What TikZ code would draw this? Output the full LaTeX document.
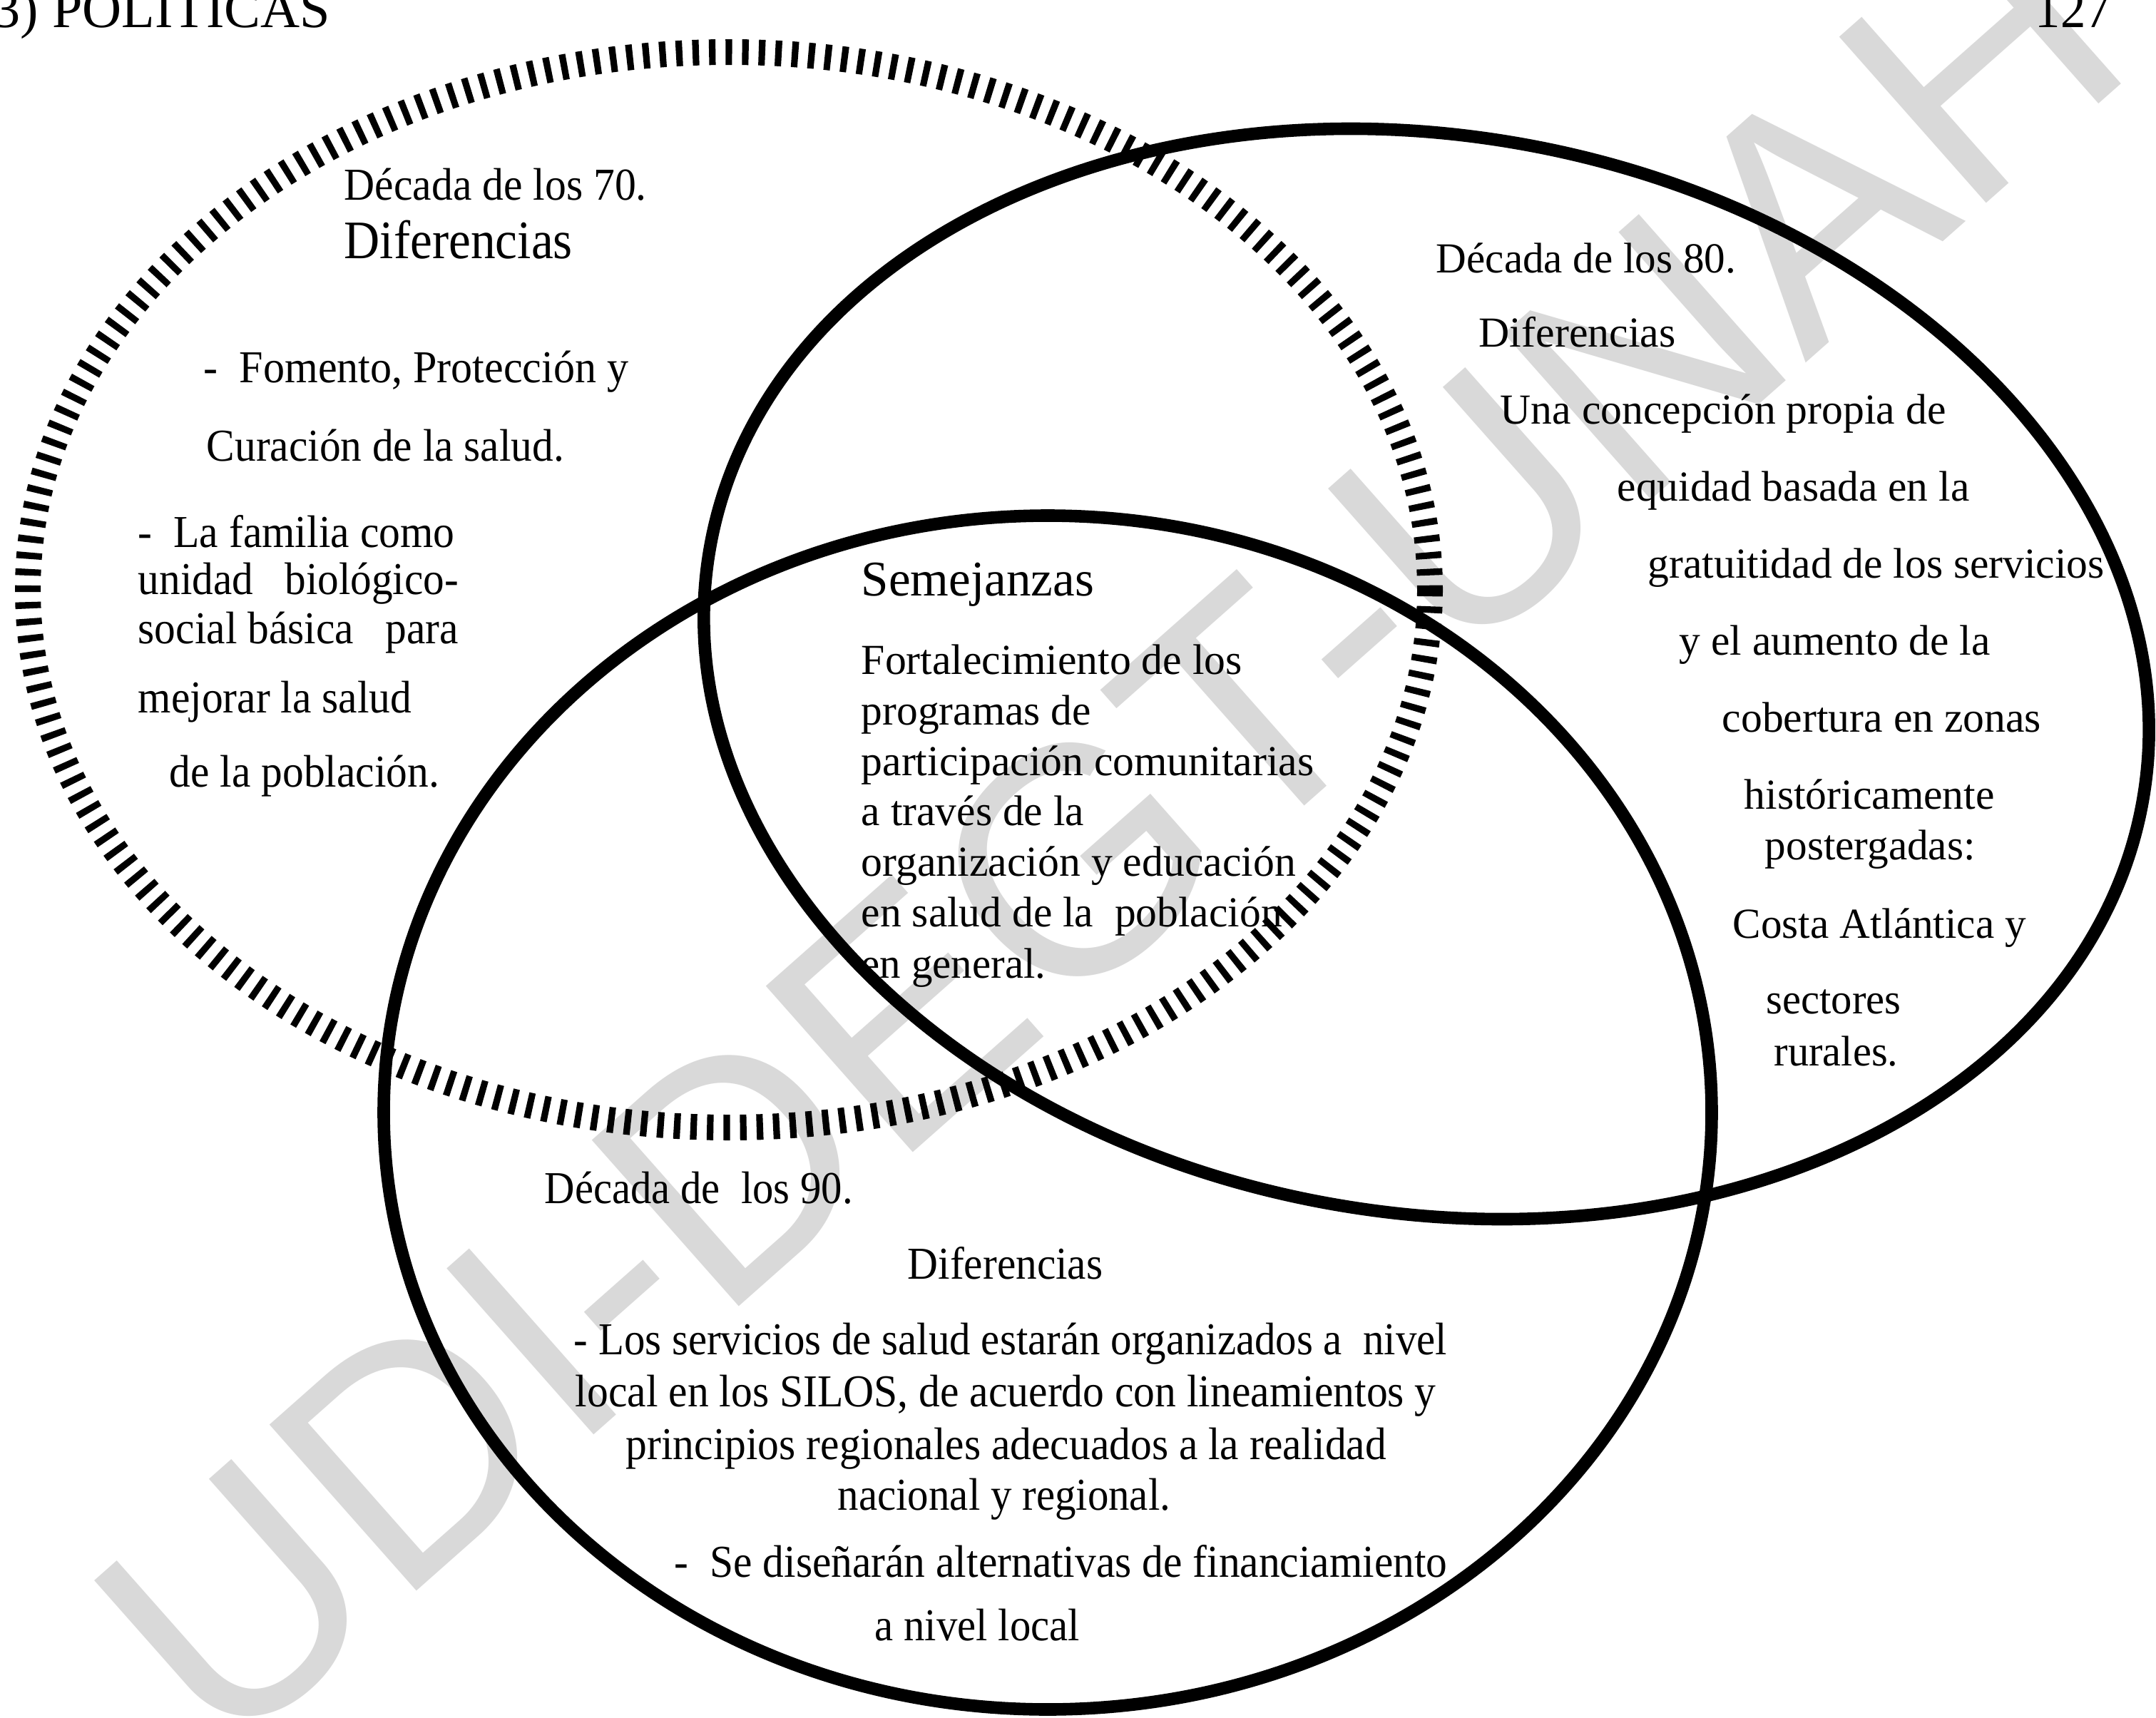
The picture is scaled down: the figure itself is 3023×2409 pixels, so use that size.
\documentclass[tikz,border=0pt]{standalone}
\usepackage{fontspec}
\usepackage{graphicx}
\setmainfont{Liberation Serif}
\newfontfamily\wmfont{Liberation Sans}
\definecolor{wmgray}{HTML}{D9D9D9}
\newcommand{\fw}[2]{\resizebox{#1pt}{\height}{#2}}
\begin{document}
\begin{tikzpicture}[x=0.25pt,y=-0.25pt,
  ring/.style={line width=4.4pt},
  rope/.style={line width=9pt, dash pattern=on 2.3pt off 3.5pt},
  txt/.style={anchor=base west, inner sep=0pt, font=\fontsize{15}{18}\selectfont},
  tall/.style={txt, font=\fontsize{16}{19}\selectfont},
  big/.style={txt, font=\fontsize{17.5}{21}\selectfont},
  bigtall/.style={txt, font=\fontsize{19}{22}\selectfont},
  head/.style={txt, font=\fontsize{19}{22}\selectfont}]
\useasboundingbox (0,0) rectangle (3023,2409);
\fill[white] (0,0) rectangle (3023,2409);
% watermark
\begin{scope}
\clip (0,0) rectangle (3023,2409);
\node[rotate=41.5, font=\wmfont\fontsize{113}{116}\selectfont, text=wmgray, inner sep=0pt] (wm) at (1554,1166) {UDI-DEGT-UNAH};
\end{scope}
% circles
\draw[rope] (1022,827) ellipse [x radius=983, y radius=754];
\draw[ring, shift={(2000,945)}, rotate=-10] (0,0) ellipse [x radius=1020, y radius=755];
\draw[ring] (1469,1560) ellipse [x radius=931, y radius=837];
% header
\node[head] (h1) at (-10,38) {\fw{118.1}{3) POLITICAS}};
\node[head] (h2) at (2853,38) {\fw{26.5}{127}};
% 70s
\node[tall] (a1) at (482,280) {\fw{106.0}{Década de los 70.}};
\node[bigtall] (a2) at (482,362) {\fw{80.0}{Diferencias}};
\node[tall] (a3) at (285,536) {\fw{148.9}{-\ \ Fomento, Protección y}};
\node[tall] (a4) at (289,646) {\fw{125.3}{Curación de la salud.}};
\node[tall] (a5) at (193,767) {\fw{110.9}{-\ \ La familia como}};
\node[tall] (a6) at (193,833) {\fw{112.3}{unidad\ \ \ biológico-}};
\node[tall] (a7) at (193,902) {\fw{112.3}{social básica\ \ \ para}};
\node[tall] (a8) at (193,999) {\fw{95.9}{mejorar la salud}};
\node[tall] (a9) at (237,1103) {\fw{94.5}{de la población.}};
% semejanzas
\node[big] (s1) at (1207,835) {\fw{81.5}{Semejanzas}};
\node[txt] (s2) at (1207,945) {\fw{133.5}{Fortalecimiento de los}};
\node[txt] (s3) at (1207,1016) {\fw{80.5}{programas de}};
\node[txt] (s4) at (1207,1087) {\fw{158.6}{participación comunitarias}};
\node[txt] (s5) at (1207,1157) {\fw{78.1}{a través de la}};
\node[txt] (s6) at (1207,1228) {\fw{152.3}{organización y educación}};
\node[txt] (s7) at (1207,1299) {\fw{147.5}{en salud de la\ \ población}};
\node[txt] (s8) at (1207,1371) {\fw{64.6}{en general.}};
% 80s
\node[txt] (b1) at (2013,382) {\fw{105.1}{Década de los 80.}};
\node[txt] (b2) at (2073,486) {\fw{68.9}{Diferencias}};
\node[txt] (b3) at (2103,594) {\fw{156.2}{Una concepción propia de}};
\node[txt] (b4) at (2267,702) {\fw{123.4}{equidad basada en la}};
\node[txt] (b5) at (2310,810) {\fw{160.0}{gratuitidad de los servicios}};
\node[txt] (b6) at (2354,918) {\fw{108.9}{y el aumento de la}};
\node[txt] (b7) at (2414,1026) {\fw{111.8}{cobertura en zonas}};
\node[txt] (b8) at (2445,1134) {\fw{87.7}{históricamente}};
\node[txt] (b9) at (2474,1205) {\fw{73.7}{postergadas:}};
\node[txt] (b10) at (2429,1315) {\fw{102.7}{Costa Atlántica y}};
\node[txt] (b11) at (2476,1421) {\fw{47.2}{sectores}};
\node[txt] (b12) at (2487,1494) {\fw{43.4}{rurales.}};
% 90s
\node[tall] (c1) at (763,1687) {\fw{108.0}{Década de\ \ los 90.}};
\node[tall] (c2) at (1272,1793) {\fw{68.4}{Diferencias}};
\node[tall] (c3) at (804,1899) {\fw{306.1}{- Los servicios de salud estarán organizados a\ \ nivel}};
\node[tall] (c4) at (806,1972) {\fw{301.7}{local en los SILOS, de acuerdo con lineamientos y}};
\node[tall] (c5) at (877,2046) {\fw{266.5}{principios regionales adecuados a la realidad}};
\node[tall] (c6) at (1174,2117) {\fw{116.6}{nacional y regional.}};
\node[tall] (c7) at (945,2211) {\fw{270.9}{-\ \ Se diseñarán alternativas de financiamiento}};
\node[tall] (c8) at (1226,2300) {\fw{71.8}{a nivel local}};
\end{tikzpicture}
\end{document}
